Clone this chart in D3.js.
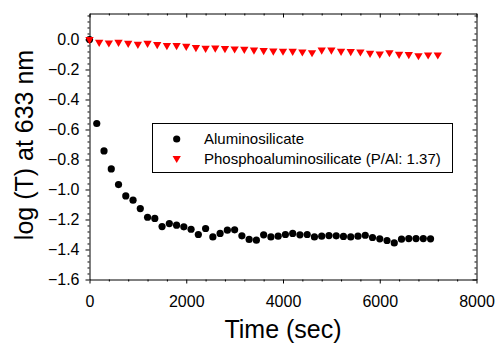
<!DOCTYPE html>
<html>
<head>
<meta charset="utf-8">
<script src="https://cdn.jsdelivr.net/npm/d3@7"></script>
<style>
  body { margin: 0; background: #fff; }
  svg { display: block; font-family: "Liberation Sans", Arial, Helvetica, sans-serif; }
</style>
</head>
<body>
<div id="chart"></div>
<script>
// Aluminosilicate (black circles)
const alumTime = [0, 150, 300, 450, 600, 750, 900, 1050, 1200, 1350, 1500, 1650, 1800, 1950,
  2100, 2250, 2400, 2550, 2700, 2850, 3000, 3150, 3300, 3450, 3600, 3750, 3900, 4050, 4200,
  4350, 4500, 4650, 4800, 4950, 5100, 5250, 5400, 5550, 5700, 5850, 6000, 6150, 6300, 6450,
  6600, 6750, 6900, 7050];
const alumLogT = [0, -0.56, -0.743, -0.863, -0.967, -1.043, -1.071, -1.127, -1.185, -1.193,
  -1.247, -1.227, -1.238, -1.249, -1.265, -1.300, -1.260, -1.316, -1.293, -1.271, -1.269,
  -1.309, -1.333, -1.338, -1.302, -1.316, -1.311, -1.300, -1.293, -1.302, -1.300, -1.316,
  -1.311, -1.307, -1.309, -1.313, -1.316, -1.311, -1.305, -1.320, -1.329, -1.340, -1.356,
  -1.331, -1.327, -1.327, -1.327, -1.329];

// Phosphoaluminosilicate (red triangles)
const phosTime = [0, 200, 400, 600, 800, 1000, 1200, 1400, 1600, 1800, 2000, 2200, 2400, 2600,
  2800, 3000, 3200, 3400, 3600, 3800, 4000, 4200, 4400, 4600, 4800, 5000, 5200, 5400, 5600,
  5800, 6000, 6200, 6400, 6600, 6800, 7000, 7200];
const phosLogT = [0, -0.018, -0.022, -0.018, -0.025, -0.031, -0.025, -0.033, -0.040, -0.040,
  -0.045, -0.053, -0.058, -0.056, -0.060, -0.062, -0.065, -0.069, -0.073, -0.076, -0.077,
  -0.078, -0.082, -0.087, -0.069, -0.069, -0.078, -0.080, -0.082, -0.091, -0.096, -0.087,
  -0.098, -0.100, -0.107, -0.102, -0.102];

const xTicks = [0, 2000, 4000, 6000, 8000];
const yTicks = [0, -0.2, -0.4, -0.6, -0.8, -1.0, -1.2, -1.4, -1.6];
const legendLabels = ["Aluminosilicate", "Phosphoaluminosilicate (P/Al: 1.37)"];

const width = 496, height = 347;
const plotLeft = 89.5, plotRight = 476.5, plotTop = 13.5, plotBottom = 279.5;

const svg = d3.select("#chart").append("svg")
  .attr("width", width)
  .attr("height", height);

const x = d3.scaleLinear().domain([0, 8000]).range([plotLeft, plotRight]);
const y = d3.scaleLinear().domain([-1.6, 0.1733]).range([plotBottom, plotTop]);

const xMinor = d3.range(0, 8001, 400).filter(v => v % 2000 !== 0);
const yMinor = d3.range(-40, 5).map(i => i * 0.04).filter(v => Math.abs(v / 0.2 - Math.round(v / 0.2)) > 1e-6);

// left axis, ticks pointing left
svg.append("g")
  .attr("transform", `translate(${plotLeft},0)`)
  .call(d3.axisLeft(y).tickValues(yTicks).tickSize(4).tickSizeOuter(0).tickPadding(6)
    .tickFormat(d3.format(".1f")))
  .call(g => g.selectAll("text").attr("font-size", 16).attr("fill", "#000"));
svg.append("g")
  .attr("transform", `translate(${plotLeft},0)`)
  .call(d3.axisLeft(y).tickValues(yMinor).tickSize(2).tickSizeOuter(0).tickFormat(""))
  .call(g => g.select(".domain").remove());

// right axis, ticks pointing left (inside)
svg.append("g")
  .attr("transform", `translate(${plotRight},0)`)
  .call(d3.axisLeft(y).tickValues(yTicks).tickSize(4).tickSizeOuter(0).tickFormat(""));
svg.append("g")
  .attr("transform", `translate(${plotRight},0)`)
  .call(d3.axisLeft(y).tickValues(yMinor).tickSize(2).tickSizeOuter(0).tickFormat(""))
  .call(g => g.select(".domain").remove());

// bottom axis, ticks pointing down
svg.append("g")
  .attr("transform", `translate(0,${plotBottom})`)
  .call(d3.axisBottom(x).tickValues(xTicks).tickSize(4).tickSizeOuter(0).tickPadding(12)
    .tickFormat(d3.format("d")))
  .call(g => g.selectAll("text").attr("font-size", 16).attr("fill", "#000"));
svg.append("g")
  .attr("transform", `translate(0,${plotBottom})`)
  .call(d3.axisBottom(x).tickValues(xMinor).tickSize(2).tickSizeOuter(0).tickFormat(""))
  .call(g => g.select(".domain").remove());

// top axis, ticks pointing down (inside)
svg.append("g")
  .attr("transform", `translate(0,${plotTop})`)
  .call(d3.axisBottom(x).tickValues(xTicks).tickSize(4).tickSizeOuter(0).tickFormat(""));
svg.append("g")
  .attr("transform", `translate(0,${plotTop})`)
  .call(d3.axisBottom(x).tickValues(xMinor).tickSize(2).tickSizeOuter(0).tickFormat(""))
  .call(g => g.select(".domain").remove());

// axis titles
svg.append("text")
  .attr("x", (plotLeft + plotRight) / 2)
  .attr("y", 338)
  .attr("text-anchor", "middle")
  .attr("font-size", 25)
  .text("Time (sec)");

svg.append("text")
  .attr("transform", "translate(33,145) rotate(-90)")
  .attr("text-anchor", "middle")
  .attr("font-size", 25)
  .text("log (T) at 633 nm");

// data
const alumData = alumTime.map((t, i) => ({ t: t, v: alumLogT[i] }));
const phosData = phosTime.map((t, i) => ({ t: t, v: phosLogT[i] }));

svg.append("g").selectAll("circle")
  .data(alumData)
  .enter()
  .append("circle")
  .attr("cx", d => x(d.t))
  .attr("cy", d => y(d.v))
  .attr("r", 3.6)
  .attr("fill", "#000");

const tri = d3.symbol().type(d3.symbolTriangle).size(30);
svg.append("g").selectAll("path")
  .data(phosData)
  .enter()
  .append("path")
  .attr("d", tri)
  .attr("transform", d => `translate(${x(d.t)},${y(d.v)}) rotate(180)`)
  .attr("fill", "#ff0000");

// legend
const legend = svg.append("g");
legend.append("rect")
  .attr("x", 152.5).attr("y", 123.5)
  .attr("width", 300).attr("height", 49)
  .attr("fill", "#fff").attr("stroke", "#000");
legend.append("circle")
  .attr("cx", 176.7).attr("cy", 139).attr("r", 3.6).attr("fill", "#000");
legend.append("path")
  .attr("d", tri)
  .attr("transform", "translate(176.7,158.3) rotate(180)")
  .attr("fill", "#ff0000");
legend.selectAll("text.lab")
  .data(legendLabels)
  .enter()
  .append("text")
  .attr("class", "lab")
  .attr("x", 204)
  .attr("y", (d, i) => [139, 158.3][i])
  .attr("dy", "0.35em")
  .attr("font-size", 15)
  .text(d => d);
</script>
</body>
</html>
